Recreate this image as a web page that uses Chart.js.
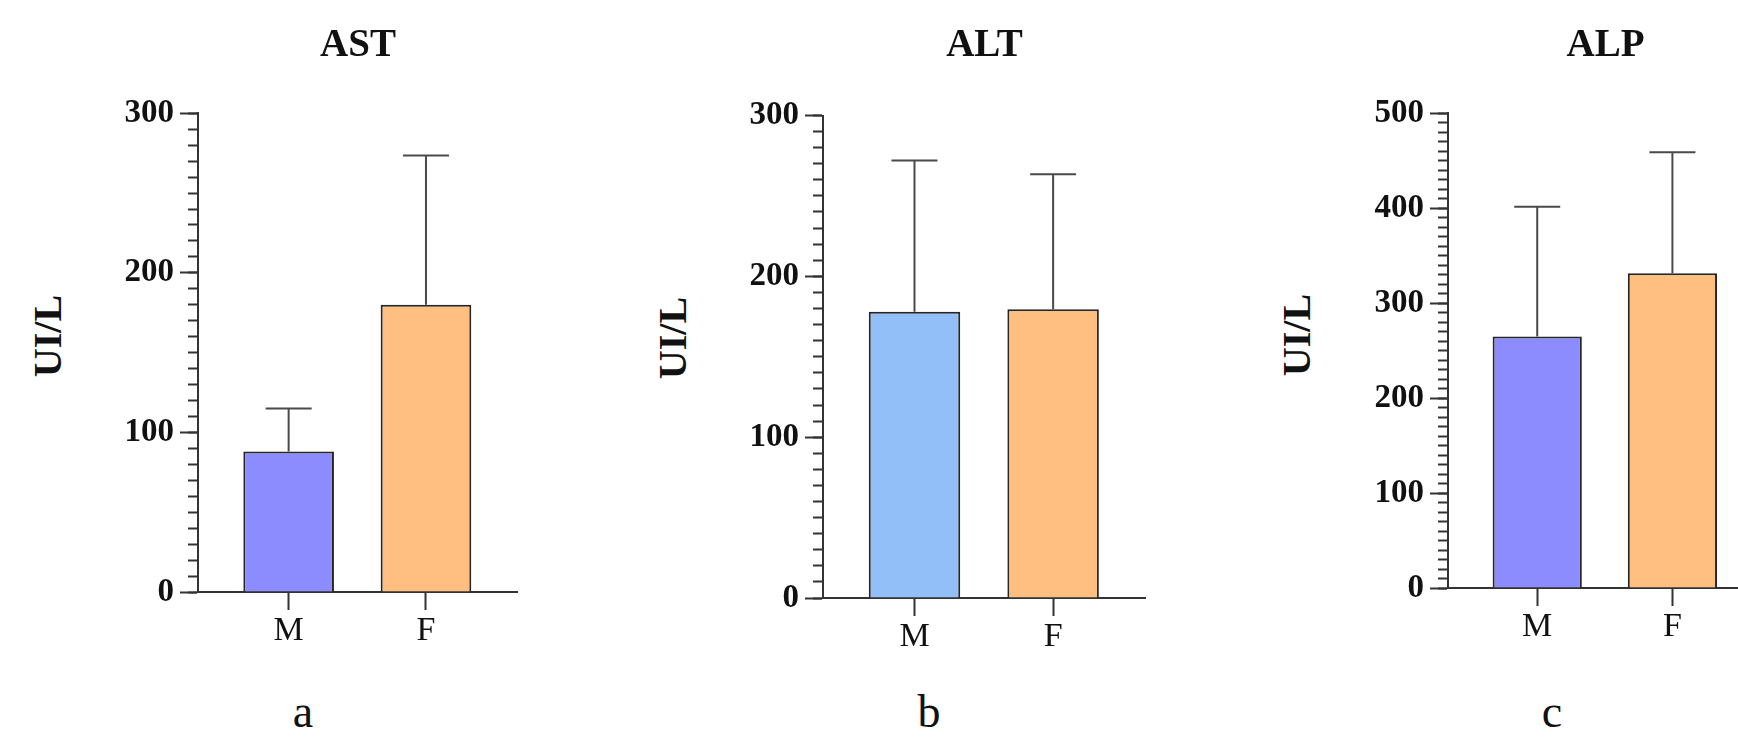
<!DOCTYPE html>
<html>
<head>
<meta charset="utf-8">
<script src="https://cdn.jsdelivr.net/npm/chart.js@4.4.1/dist/chart.umd.min.js"></script>
<style>
  html, body { margin: 0; padding: 0; background: #fff; }
  #wrap { position: relative; width: 1738px; height: 742px; overflow: hidden; background: #fff; }
  canvas { position: absolute; top: 0; }
  .ylab { position: absolute; font-family: 'Liberation Serif', 'Times New Roman', serif; font-weight: bold;
          font-size: 40px; line-height: 40px; white-space: nowrap; color: #111;
          transform: translate(-50%, -50%) rotate(-90deg); }
  .sub { position: absolute; top: 689px; width: 60px; margin-left: -30px; text-align: center;
         font-family: 'Liberation Serif', 'Times New Roman', serif; font-size: 46px; line-height: 46px; color: #111; }
</style>
</head>
<body>
<div id="wrap">
  <canvas id="cA" width="418" height="672" style="left:100px"></canvas>
  <canvas id="cB" width="426" height="678" style="left:720px"></canvas>
  <canvas id="cC" width="418" height="668" style="left:1345px"></canvas>
</div>
<script>
// ---------------- data ----------------
const categories = ['M', 'F'];
const panelTitles = ['AST', 'ALT', 'ALP'];
const panelLetters = ['a', 'b', 'c'];
const yAxisTitle = 'UI/L';
const yMaxes = [300, 300, 500];

const astMean = [88, 180];
const astSD = [27, 93.5];
const altMean = [178, 179.5];
const altSD = [94, 84];
const alpMean = [265, 331.5];
const alpSD = [136.5, 127.5];

// ---------------- styles / layout ----------------
const colMaleA = '#8C8CFF';
const colMaleB = '#92BFF8';
const colFemale = '#FFBF80';
const axisColor = '#333333';
const FONT = "'Liberation Serif', 'Times New Roman', serif";

Chart.defaults.font.family = FONT;
Chart.defaults.color = '#111';

const panels = [
  { id: 'cA', title: panelTitles[0], mean: astMean, sd: astSD, yMax: yMaxes[0], colors: [colMaleA, colFemale],
    yWidth: 98, titleBottom: 43.5, ylabX: 48, ylabY: 336, letterX: 303 },
  { id: 'cB', title: panelTitles[1], mean: altMean, sd: altSD, yMax: yMaxes[1], colors: [colMaleB, colFemale],
    yWidth: 103, titleBottom: 45.7, ylabX: 673, ylabY: 338, letterX: 929 },
  { id: 'cC', title: panelTitles[2], mean: alpMean, sd: alpSD, yMax: yMaxes[2], colors: [colMaleA, colFemale],
    yWidth: 103, titleBottom: 43.5, ylabX: 1297, ylabY: 335, letterX: 1552 }
];

const errorBars = {
  id: 'errorBars',
  afterDatasetsDraw(chart, args, opts) {
    const ctx = chart.ctx;
    const yScale = chart.scales.y;
    const ds = chart.data.datasets[0];
    const meta = chart.getDatasetMeta(0);
    ctx.save();
    ctx.strokeStyle = opts.color;
    ctx.lineWidth = opts.width;
    meta.data.forEach((bar, i) => {
      const top = yScale.getPixelForValue(ds.data[i].y + ds.sd[i]);
      ctx.beginPath();
      ctx.moveTo(bar.x, bar.y);
      ctx.lineTo(bar.x, top);
      ctx.moveTo(bar.x - opts.cap, top);
      ctx.lineTo(bar.x + opts.cap, top);
      ctx.stroke();
    });
    ctx.restore();
  }
};

const wrap = document.getElementById('wrap');

panels.forEach((p, pi) => {
  const yl = document.createElement('div');
  yl.className = 'ylab';
  yl.style.left = p.ylabX + 'px';
  yl.style.top = p.ylabY + 'px';
  yl.textContent = yAxisTitle;
  wrap.appendChild(yl);
  const lt = document.createElement('div');
  lt.className = 'sub';
  lt.style.left = p.letterX + 'px';
  lt.textContent = panelLetters[pi];
  wrap.appendChild(lt);

  new Chart(document.getElementById(p.id), {
    type: 'bar',
    data: {
      datasets: [{
        data: categories.map((c, i) => ({ x: i + 1, y: p.mean[i] })),
        sd: p.sd,
        backgroundColor: p.colors,
        borderColor: '#262626',
        borderWidth: 2,
        borderSkipped: 'start',
        categoryPercentage: 1,
        barPercentage: 0.66
      }]
    },
    options: {
      responsive: false,
      animation: false,
      devicePixelRatio: 1,
      layout: { padding: 0 },
      plugins: {
        legend: { display: false },
        tooltip: { enabled: false },
        title: {
          display: true,
          text: p.title,
          fullSize: false,
          color: '#111',
          font: { family: FONT, size: 39, weight: 'bold' },
          padding: { top: 23, bottom: p.titleBottom }
        },
        errorBars: { color: '#4a4a4a', width: 2, cap: 23 }
      },
      scales: {
        x: {
          type: 'linear',
          offset: false,
          min: 0.34,
          max: 2.67,
          afterBuildTicks: (s) => { s.ticks = categories.map((c, i) => ({ value: i + 1 })); },
          afterFit: (s) => { s.height = 80; },
          ticks: {
            callback: (v, i) => categories[i],
            font: { family: FONT, size: 34 },
            color: '#111',
            padding: 1,
            maxRotation: 0,
            autoSkip: false
          },
          grid: { display: true, offset: false, drawOnChartArea: false, drawTicks: true, tickLength: 18,
                  tickWidth: 2, tickColor: axisColor },
          border: { display: true, color: axisColor, width: 2 }
        },
        y: {
          position: 'left',
          weight: 1,
          min: 0,
          max: p.yMax,
          afterFit: (s) => { s.width = p.yWidth; },
          ticks: {
            stepSize: 100,
            font: { family: FONT, size: 33, weight: 'bold' },
            color: '#111',
            padding: 6
          },
          grid: { display: true, drawOnChartArea: false, drawTicks: true, tickLength: 18,
                  tickWidth: 2, tickColor: axisColor },
          border: { display: true, color: axisColor, width: 2 }
        },
        yMinor: {
          position: 'left',
          weight: 0,
          min: 0,
          max: p.yMax,
          afterFit: (s) => { s.width = 0; },
          ticks: { stepSize: 10, display: false },
          grid: { display: true, drawOnChartArea: false, drawTicks: true, tickLength: 10,
                  tickWidth: 2, tickColor: axisColor },
          border: { display: true, color: axisColor, width: 2 }
        }
      }
    },
    plugins: [errorBars]
  });
});
</script>
</body>
</html>
